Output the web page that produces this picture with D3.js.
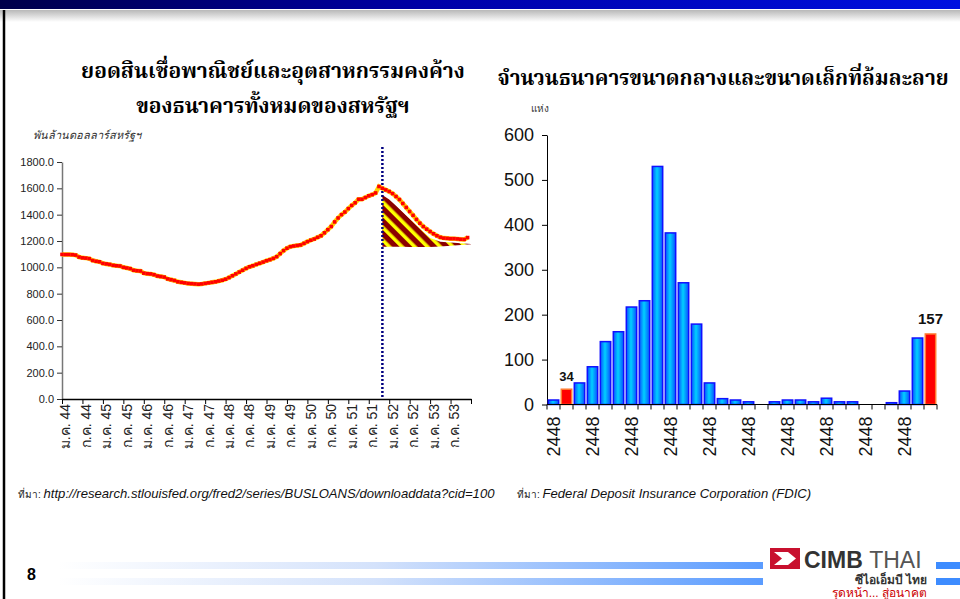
<!DOCTYPE html>
<html>
<head>
<meta charset="utf-8">
<script src="https://cdn.jsdelivr.net/npm/d3@7"></script>
<style>
  body { margin: 0; background: #fff; }
  svg { display: block; font-family: Arial, "Liberation Sans", sans-serif; }
  .title { font-family: "Noto Serif Thai", "Noto Sans Thai", "Tlwg Typo", serif; font-weight: bold; fill: #000; }
  .src { font-family: "Liberation Sans Narrow", "Arial Narrow", Arial, sans-serif; font-style: italic; fill: #111; }
</style>
</head>
<body>
<script>
// ---------- DATA ----------

// Commercial & industrial loans, monthly from Jan 2001 (index 0)
var loanValues = [
  1098, 1097, 1097, 1096, 1093, 1078, 1072, 1070, 1066, 1052, 1046, 1042,
  1030, 1026, 1022, 1015, 1012, 1010, 1000, 995, 990, 978, 974, 972,
  956, 952, 950, 944, 934, 930, 926, 912, 906, 900, 890, 886,
  882, 878, 876, 874, 872, 874, 878, 882, 886, 890, 896, 902,
  910, 922, 936, 950, 964, 978, 992, 1004, 1012, 1022, 1031, 1040,
  1050, 1058, 1068, 1081, 1104, 1127, 1145, 1157, 1162, 1166, 1170, 1182,
  1195, 1206, 1215, 1228, 1240, 1262, 1286, 1310, 1345, 1375, 1400, 1420,
  1446, 1470, 1490, 1517, 1517, 1530, 1543, 1552, 1565, 1614, 1600, 1588,
  1576, 1560, 1538, 1515, 1485, 1455, 1424, 1395, 1364, 1335, 1310, 1290,
  1272, 1255, 1240, 1228, 1222, 1220, 1218, 1218, 1216, 1213, 1212, 1226
];
var loanTickLabels = [
  "ม.ค. 44", "ก.ค. 44", "ม.ค. 45", "ก.ค. 45", "ม.ค. 46", "ก.ค. 46", "ม.ค. 47",
  "ก.ค. 47", "ม.ค. 48", "ก.ค. 48", "ม.ค. 49", "ก.ค. 49", "ม.ค. 50", "ก.ค. 50",
  "ม.ค. 51", "ก.ค. 51", "ม.ค. 52", "ก.ค. 52", "ม.ค. 53", "ก.ค. 53"
];
var loanTicksY = [0, 200, 400, 600, 800, 1000, 1200, 1400, 1600, 1800];
var crisisMonth = 94;

// hatched gap area after the peak
var hatchIndex = [94, 96, 98, 100, 102, 104, 106, 108, 111, 114, 117, 120];
var hatchUpper = [1550, 1516, 1467, 1418, 1369, 1320, 1271, 1222, 1195, 1188, 1182, 1177];
var hatchBase  = [1157, 1157, 1156, 1156, 1155, 1155, 1155, 1155, 1158, 1164, 1170, 1176];

// Failed banks per year
var failYears = [
  1981, 1982, 1983, 1984, 1985, 1986, 1987, 1988, 1989, 1990,
  1991, 1992, 1993, 1994, 1995, 1996, 1997, 1998, 1999, 2000,
  2001, 2002, 2003, 2004, 2005, 2006, 2007, 2008, 2009, 2010
];
var failCounts = [
  10, 34, 48, 84, 140, 162, 217, 231, 530, 382,
  271, 179, 48, 13, 10, 6, 0, 6, 10, 10,
  6, 14, 6, 6, 0, 0, 4, 30, 148, 157
];
var failHighlight = [1982, 2010];
var failTickYears = [1981, 1984, 1987, 1990, 1993, 1996, 1999, 2002, 2005, 2008];
var failTickLabels = ["2448", "2448", "2448", "2448", "2448", "2448", "2448", "2448", "2448", "2448"];
var failTicksY = [0, 100, 200, 300, 400, 500, 600];

// ---------- PAGE ----------
var W = 960, H = 599;
var svg = d3.select("body").append("svg")
    .attr("width", W)
    .attr("height", H);

var defs = svg.append("defs");

var topGrad = defs.append("linearGradient").attr("id", "topGrad");
topGrad.append("stop").attr("offset", "0%").attr("stop-color", "#00004a");
topGrad.append("stop").attr("offset", "45%").attr("stop-color", "#0000a8");
topGrad.append("stop").attr("offset", "100%").attr("stop-color", "#0010e0");

var shadeGrad = defs.append("linearGradient").attr("id", "shadeGrad")
    .attr("x1", 0).attr("y1", 0).attr("x2", 0).attr("y2", 1);
shadeGrad.append("stop").attr("offset", "0%").attr("stop-color", "#b8b8b8");
shadeGrad.append("stop").attr("offset", "100%").attr("stop-color", "#ffffff");

var footGrad = defs.append("linearGradient").attr("id", "footGrad");
footGrad.append("stop").attr("offset", "0%").attr("stop-color", "#ffffff");
footGrad.append("stop").attr("offset", "45%").attr("stop-color", "#d4e2fb");
footGrad.append("stop").attr("offset", "100%").attr("stop-color", "#5b9cff");

var barGrad = defs.append("linearGradient").attr("id", "barGrad");
barGrad.append("stop").attr("offset", "0%").attr("stop-color", "#0a50ff");
barGrad.append("stop").attr("offset", "45%").attr("stop-color", "#00d0ff");
barGrad.append("stop").attr("offset", "100%").attr("stop-color", "#0a50ff");

var hatch = defs.append("pattern").attr("id", "hatch")
    .attr("patternUnits", "userSpaceOnUse")
    .attr("width", 9).attr("height", 9)
    .attr("patternTransform", "rotate(-45)");
hatch.append("rect").attr("width", 9).attr("height", 9).attr("fill", "#8b0000");
hatch.append("rect").attr("width", 3.6).attr("height", 9).attr("fill", "#ffff00");

// slide frame
svg.append("rect").attr("x", 0).attr("y", 0).attr("width", W).attr("height", 9).attr("fill", "url(#topGrad)");
svg.append("rect").attr("x", 0).attr("y", 10).attr("width", W).attr("height", 12).attr("fill", "url(#shadeGrad)");
svg.append("line").attr("x1", 4).attr("x2", 4).attr("y1", 10).attr("y2", H)
    .attr("stroke", "#000").attr("stroke-width", 2.5);

/*  ----------------------
    ------LEFT CHART------
    ---------------------- */

svg.append("text").attr("class", "title")
    .attr("x", 273).attr("y", 78).attr("text-anchor", "middle")
    .style("font-size", "21px")
    .text("ยอดสินเชื่อพาณิชย์และอุตสาหกรรมคงค้าง");
svg.append("text").attr("class", "title")
    .attr("x", 273).attr("y", 113).attr("text-anchor", "middle")
    .style("font-size", "21px")
    .text("ของธนาคารทั้งหมดของสหรัฐฯ");

svg.append("text")
    .attr("x", 33).attr("y", 139)
    .style("font-size", "11px").style("font-style", "italic").attr("fill", "#333")
    .text("พันล้านดอลลาร์สหรัฐฯ");

var xL = d3.scaleLinear().domain([0, 120]).range([62, 471]);
var yL = d3.scaleLinear().domain([0, 1800]).range([399, 162]);

var gyL = svg.append("g")
    .attr("transform", "translate(62,0)")
    .call(d3.axisLeft(yL).tickValues(loanTicksY).tickFormat(d3.format(".1f")).tickSize(5).tickSizeOuter(0));
gyL.select(".domain").attr("stroke", "#777").attr("stroke-width", 1.5);
gyL.selectAll(".tick line").attr("stroke", "#333");
gyL.selectAll(".tick text").style("font-size", "11px").attr("fill", "#222").attr("x", -8);

var monthTicks = loanTickLabels.map(function (d, i) { return i * 6; }).concat([120]);
var gxL = svg.append("g")
    .attr("transform", "translate(0,399)")
    .call(d3.axisBottom(xL).tickValues(monthTicks)
        .tickFormat(function (d) { return loanTickLabels[d / 6] || ""; })
        .tickSize(5).tickSizeOuter(0));
gxL.select(".domain").attr("stroke", "#000").attr("stroke-width", 1.5);
gxL.selectAll(".tick line").attr("stroke", "#000");
gxL.selectAll(".tick text")
    .style("font-size", "14px").attr("fill", "#222")
    .attr("transform", "rotate(-90)")
    .attr("text-anchor", "end")
    .attr("x", -5).attr("y", 3).attr("dy", "0.35em");

// hatched area
var hatchData = hatchIndex.map(function (d, i) { return { i: d, top: hatchUpper[i], base: hatchBase[i] }; });
svg.append("path")
    .datum(hatchData)
    .attr("fill", "url(#hatch)")
    .attr("d", d3.area()
        .x(function (d) { return xL(d.i); })
        .y0(function (d) { return yL(d.base); })
        .y1(function (d) { return yL(d.top); }));

// crisis marker
svg.append("line")
    .attr("x1", xL(crisisMonth)).attr("x2", xL(crisisMonth))
    .attr("y1", 147).attr("y2", yL(0))
    .attr("stroke", "#000080").attr("stroke-width", 2.5)
    .attr("stroke-dasharray", "2,2");

// loan line: yellow under red square markers
var loanLine = d3.line()
    .x(function (d, i) { return xL(i); })
    .y(function (d) { return yL(d); });
svg.append("path")
    .datum(loanValues)
    .attr("fill", "none")
    .attr("stroke", "#ffd000")
    .attr("stroke-width", 4.5)
    .attr("d", loanLine);
svg.append("g").selectAll("rect")
    .data(loanValues)
    .enter().append("rect")
    .attr("x", function (d, i) { return xL(i) - 1.8; })
    .attr("y", function (d) { return yL(d) - 1.8; })
    .attr("width", 3.6).attr("height", 3.6)
    .attr("fill", "#ff0000");

/*  ----------------------
    ------RIGHT CHART-----
    ---------------------- */

svg.append("text").attr("class", "title")
    .attr("x", 723).attr("y", 85).attr("text-anchor", "middle")
    .style("font-size", "20.7px")
    .text("จำนวนธนาคารขนาดกลางและขนาดเล็กที่ล้มละลาย");

svg.append("text")
    .attr("x", 531).attr("y", 112)
    .style("font-size", "10px").attr("fill", "#333")
    .text("แห่ง");

var xR = d3.scaleBand().domain(failYears).range([547, 937]).paddingInner(0.2).paddingOuter(0.1);
var yR = d3.scaleLinear().domain([0, 600]).range([404.5, 135]);
var step = xR.step();

var gyR = svg.append("g")
    .attr("transform", "translate(547,0)")
    .call(d3.axisLeft(yR).tickValues(failTicksY).tickSize(5).tickSizeOuter(0));
gyR.select(".domain").attr("stroke", "#000");
gyR.selectAll(".tick text").style("font-size", "18px").attr("fill", "#111").attr("x", -13);

// bars
svg.append("g").selectAll("rect")
    .data(failCounts)
    .enter().append("rect")
    .attr("x", function (d, i) { return xR(failYears[i]); })
    .attr("y", function (d) { return yR(d); })
    .attr("width", xR.bandwidth())
    .attr("height", function (d) { return yR(0) - yR(d); })
    .attr("fill", function (d, i) { return failHighlight.indexOf(failYears[i]) >= 0 ? "#ff0000" : "url(#barGrad)"; })
    .attr("stroke", function (d, i) { return failHighlight.indexOf(failYears[i]) >= 0 ? "#ff7a30" : "#1010ff"; })
    .attr("stroke-width", 1.5);

// value labels on the red bars
svg.append("g").selectAll("text")
    .data(failHighlight)
    .enter().append("text")
    .attr("x", function (d) { return xR(d) + xR.bandwidth() / 2; })
    .attr("y", function (d) { return yR(failCounts[failYears.indexOf(d)]) - (d === 2010 ? 10 : 8); })
    .attr("text-anchor", "middle")
    .style("font-weight", "bold")
    .style("font-size", function (d) { return d === 2010 ? "15px" : "13px"; })
    .attr("fill", "#111")
    .text(function (d) { return failCounts[failYears.indexOf(d)]; });

// x axis with ticks at band boundaries
var gxR = svg.append("g").attr("transform", "translate(0," + yR(0) + ")");
gxR.append("line").attr("x1", 547).attr("x2", 937).attr("stroke", "#000");
gxR.selectAll(".bt")
    .data(failYears.concat(["end"]))
    .enter().append("line")
    .attr("x1", function (d, i) { return 547 + i * step; })
    .attr("x2", function (d, i) { return 547 + i * step; })
    .attr("y1", 0).attr("y2", 5)
    .attr("stroke", "#000");
gxR.selectAll(".yl")
    .data(failTickYears)
    .enter().append("text")
    .attr("transform", function (d) { return "translate(" + (xR(d) + xR.bandwidth() / 2) + ",12) rotate(-90)"; })
    .attr("text-anchor", "end")
    .attr("dy", "0.35em")
    .style("font-size", "18px")
    .attr("fill", "#111")
    .text(function (d, i) { return failTickLabels[i]; });

/*  ----------------------
    ---------FOOTER-------
    ---------------------- */

var src1 = svg.append("text").attr("x", 18).attr("y", 498);
src1.append("tspan").style("font-size", "10px").attr("fill", "#222").text("ที่มา: ");
src1.append("tspan").attr("class", "src").style("font-size", "13.1px")
    .text("http://research.stlouisfed.org/fred2/series/BUSLOANS/downloaddata?cid=100");

var src2 = svg.append("text").attr("x", 517).attr("y", 498);
src2.append("tspan").style("font-size", "10px").attr("fill", "#222").text("ที่มา: ");
src2.append("tspan").attr("class", "src").style("font-size", "13.1px")
    .text("Federal Deposit Insurance Corporation (FDIC)");

svg.append("text").attr("x", 27).attr("y", 580)
    .style("font-size", "16px").style("font-weight", "bold").text("8");

svg.append("rect").attr("x", 58).attr("y", 562).attr("width", 705).attr("height", 7).attr("fill", "url(#footGrad)");
svg.append("rect").attr("x", 58).attr("y", 578).attr("width", 705).attr("height", 7).attr("fill", "url(#footGrad)");
svg.append("rect").attr("x", 936).attr("y", 562).attr("width", 24).attr("height", 7).attr("fill", "#3d8cff");
svg.append("rect").attr("x", 936).attr("y", 578).attr("width", 24).attr("height", 7).attr("fill", "#3d8cff");

// CIMB THAI logo
var logo = svg.append("g");
logo.append("rect").attr("x", 765).attr("y", 544).attr("width", 170).attr("height", 55).attr("fill", "#fff");
logo.append("rect").attr("x", 770).attr("y", 548).attr("width", 30).attr("height", 21).attr("fill", "#c8102e");
logo.append("path").attr("d", "M774,552 L788,552 L796,558.5 L788,565 L774,565 L782,558.5 Z").attr("fill", "#fff");
var brand = logo.append("text").attr("x", 804).attr("y", 568).style("font-size", "23px").attr("fill", "#333");
brand.append("tspan").style("font-weight", "bold").text("CIMB ");
brand.append("tspan").attr("fill", "#555").text("THAI");
logo.append("text").attr("x", 927).attr("y", 584).attr("text-anchor", "end")
    .style("font-size", "12px").style("font-weight", "bold").attr("fill", "#333")
    .text("ซีไอเอ็มบี ไทย");
logo.append("text").attr("x", 927).attr("y", 597).attr("text-anchor", "end")
    .style("font-size", "12px").attr("fill", "#cc0000")
    .text("รุดหน้า... สู่อนาคต");
</script>
</body>
</html>
